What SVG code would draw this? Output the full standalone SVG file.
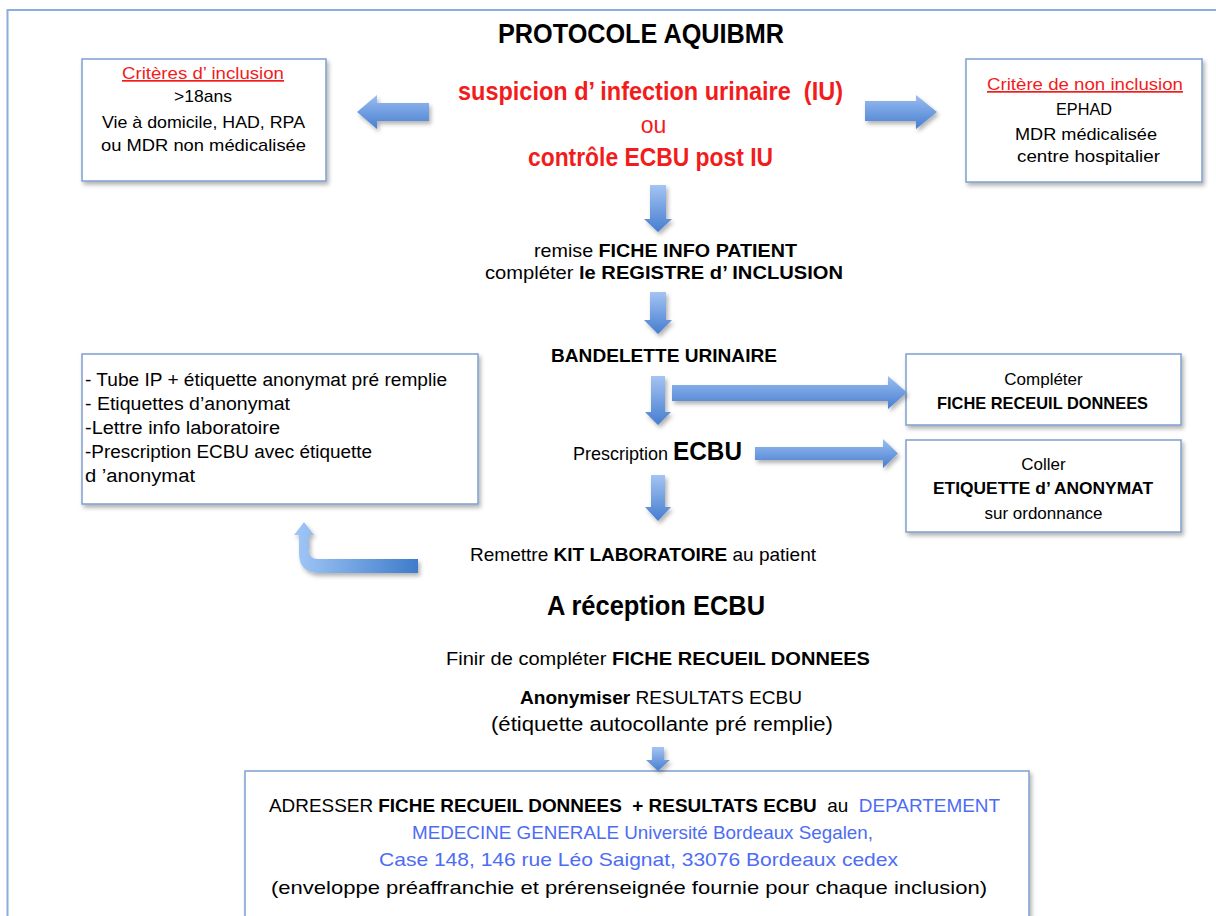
<svg xmlns="http://www.w3.org/2000/svg" width="1216" height="916" viewBox="0 0 1216 916">
<defs>
<filter id="sh" x="-10%" y="-10%" width="130%" height="140%">
<feDropShadow dx="2" dy="3" stdDeviation="2" flood-color="#000" flood-opacity="0.3"/>
</filter>
<linearGradient id="gv" x1="0" y1="0" x2="0" y2="1">
<stop offset="0" stop-color="#a4c4f3"/>
<stop offset="1" stop-color="#467dcf"/>
</linearGradient>
<linearGradient id="gh" x1="0" y1="0" x2="0" y2="1">
<stop offset="0" stop-color="#9abef2"/>
<stop offset="1" stop-color="#477ecf"/>
</linearGradient>
<linearGradient id="gc" x1="0" y1="0" x2="1" y2="0">
<stop offset="0" stop-color="#a2c7f7"/>
<stop offset="1" stop-color="#3e7cca"/>
</linearGradient>
</defs>
<style>
text{font-family:"Liberation Sans",Arial,sans-serif;fill:#000;}
.box{fill:#fff;stroke:#7f9fcf;stroke-width:1.5;filter:url(#sh);}
.arr{filter:url(#sh);}
.b{font-weight:bold;}
.red{fill:#f21c1c;}
.blue{fill:#4d6cf4;}
.bt{font-size:17px;}
.kt{font-size:18px;}
.ft{font-size:18.5px;}
.bb{font-size:19px;}
.pre{white-space:pre;}
</style>
<rect width="1216" height="916" fill="#fff"/>
<rect x="7.5" y="10" width="1230" height="930" fill="none" stroke="#8aaede" stroke-width="2"/>

<g id="title">
<text class="b" x="498" y="43" font-size="27" textLength="286" lengthAdjust="spacingAndGlyphs">PROTOCOLE AQUIBMR</text>
</g>

<g id="suspicion">
<text class="b red pre" x="458" y="100" font-size="25" textLength="385" lengthAdjust="spacingAndGlyphs">suspicion d’ infection urinaire  (IU)</text>
<text class="red" x="653.5" y="133" font-size="23" text-anchor="middle">ou</text>
<text class="b red" x="528" y="166" font-size="25" textLength="245" lengthAdjust="spacingAndGlyphs">contrôle ECBU post IU</text>
</g>

<g id="inclusion">
<rect class="box" x="82" y="59" width="244" height="122"/>
<text class="bt red" x="122" y="79" text-decoration="underline" textLength="162" lengthAdjust="spacingAndGlyphs">Critères d’ inclusion</text>
<text class="bt" x="174" y="102" textLength="58" lengthAdjust="spacingAndGlyphs">&gt;18ans</text>
<text class="bt" x="102" y="128" textLength="203" lengthAdjust="spacingAndGlyphs">Vie à domicile, HAD, RPA</text>
<text class="bt" x="101" y="151" textLength="205" lengthAdjust="spacingAndGlyphs">ou MDR non médicalisée</text>
</g>

<g id="non-inclusion">
<rect class="box" x="966" y="59" width="236" height="123"/>
<text class="bt red" x="987" y="90" text-decoration="underline" textLength="196" lengthAdjust="spacingAndGlyphs">Critère de non inclusion</text>
<text class="bt" x="1056" y="115" textLength="56" lengthAdjust="spacingAndGlyphs">EPHAD</text>
<text class="bt" x="1015" y="140" textLength="142" lengthAdjust="spacingAndGlyphs">MDR médicalisée</text>
<text class="bt" x="1017" y="162" textLength="143" lengthAdjust="spacingAndGlyphs">centre hospitalier</text>
</g>

<g id="fiche-info">
<text class="ft" x="534" y="257" textLength="263" lengthAdjust="spacingAndGlyphs">remise <tspan class="b">FICHE INFO PATIENT</tspan></text>
<text class="ft" x="485" y="279" textLength="358" lengthAdjust="spacingAndGlyphs">compléter <tspan class="b">le REGISTRE d’ INCLUSION</tspan></text>
</g>

<g id="bandelette">
<text class="ft b" x="551" y="362" textLength="226" lengthAdjust="spacingAndGlyphs">BANDELETTE URINAIRE</text>
</g>

<g id="kit">
<rect class="box" x="82" y="354" width="396" height="150"/>
<text class="kt" x="85" y="386" textLength="362" lengthAdjust="spacingAndGlyphs">- Tube IP + étiquette anonymat pré remplie</text>
<text class="kt" x="85" y="410" textLength="205" lengthAdjust="spacingAndGlyphs">- Etiquettes d’anonymat</text>
<text class="kt" x="85" y="434" textLength="195" lengthAdjust="spacingAndGlyphs">-Lettre info laboratoire</text>
<text class="kt" x="85" y="458" textLength="287" lengthAdjust="spacingAndGlyphs">-Prescription ECBU avec étiquette</text>
<text class="kt" x="85" y="482" textLength="110" lengthAdjust="spacingAndGlyphs">d ’anonymat</text>
</g>

<g id="fiche-recueil">
<rect class="box" x="906" y="354" width="275" height="71"/>
<text class="bt" x="1043.5" y="385" text-anchor="middle">Compléter</text>
<text class="bt b" x="937" y="409" textLength="211" lengthAdjust="spacingAndGlyphs">FICHE RECEUIL DONNEES</text>
</g>

<g id="prescription">
<text class="ft" x="573" y="460" textLength="169" lengthAdjust="spacingAndGlyphs">Prescription <tspan class="b" font-size="25">ECBU</tspan></text>
</g>

<g id="etiquette">
<rect class="box" x="906" y="440" width="275" height="92"/>
<text class="bt" x="1043.5" y="470" text-anchor="middle">Coller</text>
<text class="bt b" x="933" y="494" textLength="220" lengthAdjust="spacingAndGlyphs">ETIQUETTE d’ ANONYMAT</text>
<text class="bt" x="1043.5" y="519" text-anchor="middle">sur ordonnance</text>
</g>

<g id="remettre">
<text class="ft" x="470" y="561" textLength="346" lengthAdjust="spacingAndGlyphs">Remettre <tspan class="b">KIT LABORATOIRE</tspan> au patient</text>
</g>

<g id="reception">
<text class="b" x="547" y="615" font-size="28" textLength="218" lengthAdjust="spacingAndGlyphs">A réception ECBU</text>
<text class="ft" x="446" y="665" textLength="424" lengthAdjust="spacingAndGlyphs">Finir de compléter <tspan class="b">FICHE RECUEIL DONNEES</tspan></text>
<text class="ft" x="520" y="704" textLength="282" lengthAdjust="spacingAndGlyphs"><tspan class="b">Anonymiser</tspan> RESULTATS ECBU</text>
<text x="491" y="731" font-size="19.5" textLength="342" lengthAdjust="spacingAndGlyphs">(étiquette autocollante pré remplie)</text>
</g>

<g id="adresser">
<rect class="box" x="245" y="771" width="784" height="170"/>
<text class="bb pre" x="269" y="812" textLength="731" lengthAdjust="spacingAndGlyphs">ADRESSER <tspan class="b">FICHE RECUEIL DONNEES  + RESULTATS ECBU</tspan>  au  <tspan class="blue">DEPARTEMENT</tspan></text>
<text class="bb blue" x="412" y="839" textLength="461" lengthAdjust="spacingAndGlyphs">MEDECINE GENERALE Université Bordeaux Segalen,</text>
<text class="bb blue" x="379" y="866" textLength="519" lengthAdjust="spacingAndGlyphs">Case 148, 146 rue Léo Saignat, 33076 Bordeaux cedex</text>
<text class="bb" x="271" y="894" textLength="716" lengthAdjust="spacingAndGlyphs">(enveloppe préaffranchie et prérenseignée fournie pour chaque inclusion)</text>
</g>

<g id="connectors">
<path class="arr" fill="url(#gh)" d="M429 103 H377 V95 L357 112 L377 129 V121 H429 Z"/>
<path class="arr" fill="url(#gh)" d="M865 101 H916 V95 L937 112 L916 129 V121 H865 Z"/>
<path class="arr" fill="url(#gv)" d="M650 185 H666 V219 H672 L658 232 L644 219 H650 Z"/>
<path class="arr" fill="url(#gv)" d="M650 292 H666 V320 H672 L658 334 L644 320 H650 Z"/>
<path class="arr" fill="url(#gv)" d="M651 376 H665 V412 H671 L658 425 L645 412 H651 Z"/>
<path class="arr" fill="url(#gh)" d="M672 385 H888 V376 L907 392.5 L888 409 V401 H672 Z"/>
<path class="arr" fill="url(#gh)" d="M755 447 H883 V439 L898 453.5 L883 468 V460 H755 Z"/>
<path class="arr" fill="url(#gv)" d="M651 475 H665 V507 H671 L658 521 L645 507 H651 Z"/>
<path class="arr" fill="url(#gc)" d="M418 559 H318 Q309 559 309 550 V535 H314 L304 522 L294 535 H299 V553 Q299 573 319 573 H418 Z"/>
<path class="arr" fill="url(#gv)" d="M652 747 H664 V760 H670 L658 771 L646 760 H652 Z"/>
</g>
</svg>
